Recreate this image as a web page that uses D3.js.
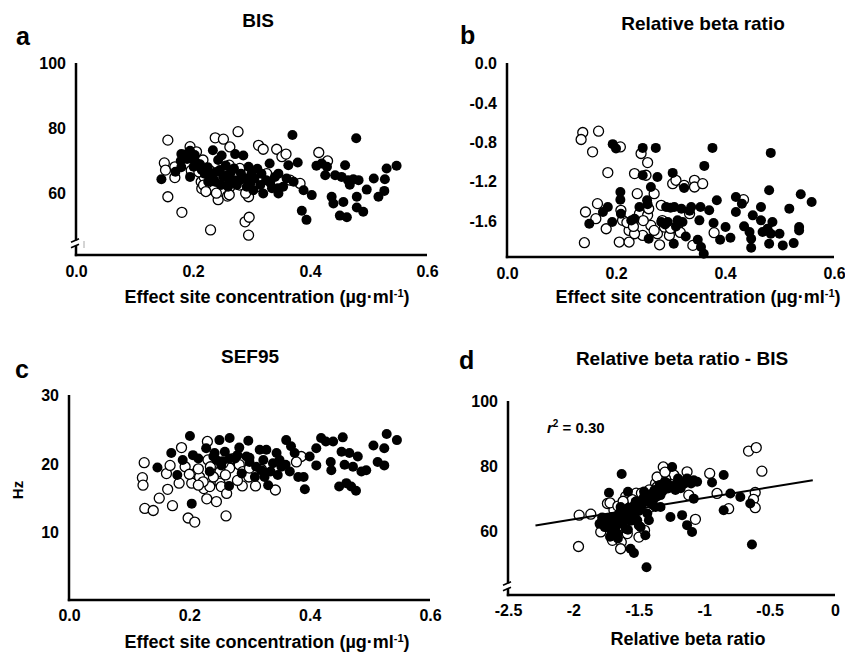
<!DOCTYPE html>
<html>
<head>
<meta charset="utf-8">
<script src="https://cdn.jsdelivr.net/npm/d3@7"></script>
<style>
  html, body { margin: 0; padding: 0; background: #fff; }
  svg { display: block; }
  text { font-family: "Liberation Sans", Arial, sans-serif; font-weight: bold; fill: #000; }
</style>
</head>
<body>
<svg id="chart" width="845" height="655"></svg>
<script>
// ---------- DATA ----------
const concTicks = [0.0, 0.2, 0.4, 0.6];
const bisTicks = [60, 80, 100];
const betaTicks = [0.0, -0.4, -0.8, -1.2, -1.6];
const sefTicks = [10, 20, 30];
const betaXTicks = [-2.5, -2, -1.5, -1, -0.5, 0];

// Panel a: BIS vs effect site concentration
const aOpen = [[0.157,76.3],[0.151,69.3],[0.153,67.1],[0.169,64.8],[0.157,58.9],[0.181,54.1],[0.195,74.3],[0.206,72.7],[0.217,70.2],[0.214,63.5],[0.215,61.4],[0.235,60.9],[0.238,77.0],[0.252,76.6],[0.243,58.0],[0.259,59.1],[0.263,74.2],[0.277,78.9],[0.230,48.7],[0.262,68.6],[0.289,51.2],[0.296,52.6],[0.295,47.1],[0.295,58.9],[0.312,74.7],[0.320,73.5],[0.343,73.5],[0.352,71.2],[0.359,72.0],[0.366,64.0],[0.383,63.0],[0.415,72.5],[0.430,69.9],[0.219,65.0],[0.229,66.9],[0.280,62.5],[0.269,65.0],[0.280,67.6],[0.326,66.0],[0.169,68.1],[0.197,67.0],[0.246,63.5],[0.263,61.9],[0.308,61.9],[0.210,66.5],[0.218,62.5],[0.222,60.5],[0.240,60.0],[0.262,59.5],[0.290,60.0]];
const aFilled = [[0.146,64.3],[0.170,66.6],[0.179,69.9],[0.186,71.9],[0.195,65.0],[0.203,71.7],[0.201,68.1],[0.215,67.1],[0.234,73.2],[0.235,66.1],[0.243,70.2],[0.246,67.1],[0.249,71.6],[0.226,63.5],[0.238,63.5],[0.258,65.5],[0.263,63.5],[0.272,72.0],[0.286,71.6],[0.280,64.0],[0.295,68.1],[0.300,66.0],[0.292,62.0],[0.303,60.9],[0.320,59.9],[0.317,66.0],[0.332,63.2],[0.331,69.1],[0.346,66.0],[0.346,59.9],[0.354,62.0],[0.363,68.6],[0.370,77.9],[0.372,63.5],[0.379,69.4],[0.386,54.6],[0.389,60.9],[0.394,51.8],[0.403,59.4],[0.411,68.4],[0.420,69.1],[0.426,65.5],[0.437,58.9],[0.443,65.5],[0.440,56.8],[0.454,65.0],[0.460,68.6],[0.457,57.3],[0.451,53.1],[0.463,52.6],[0.465,64.0],[0.468,62.6],[0.474,64.3],[0.479,76.9],[0.480,58.9],[0.483,64.0],[0.480,55.6],[0.491,54.3],[0.497,61.1],[0.509,64.5],[0.517,58.9],[0.527,60.7],[0.528,64.3],[0.531,67.6],[0.548,68.4],[0.429,68.1],[0.212,68.9],[0.270,67.6],[0.220,66.0],[0.225,68.0],[0.232,64.5],[0.240,66.5],[0.248,62.5],[0.252,65.0],[0.256,68.5],[0.260,62.0],[0.265,66.5],[0.270,64.0],[0.275,62.5],[0.282,66.0],[0.290,64.5],[0.298,63.0],[0.305,64.5],[0.310,67.5],[0.315,62.5],[0.325,64.0],[0.335,61.5],[0.340,65.0],[0.345,61.5],[0.360,64.5],[0.205,69.5],[0.190,70.5],[0.180,68.0],[0.180,72.0],[0.195,73.0],[0.200,70.5]];

// Panel b: relative beta ratio vs effect site concentration
const bOpen = [[0.139,-0.706],[0.136,-0.777],[0.168,-0.692],[0.157,-0.902],[0.185,-1.113],[0.208,-0.852],[0.144,-1.513],[0.142,-1.825],[0.166,-1.428],[0.163,-1.581],[0.182,-1.683],[0.206,-1.818],[0.209,-1.496],[0.212,-1.598],[0.224,-1.818],[0.234,-1.123],[0.239,-1.327],[0.246,-0.919],[0.258,-1.011],[0.255,-1.140],[0.243,-1.530],[0.258,-1.547],[0.264,-1.649],[0.249,-1.751],[0.280,-1.846],[0.276,-1.734],[0.283,-1.445],[0.289,-1.666],[0.298,-1.751],[0.304,-1.225],[0.310,-1.191],[0.325,-1.242],[0.335,-1.530],[0.344,-1.191],[0.344,-1.259],[0.359,-1.225],[0.341,-1.852],[0.380,-1.723],[0.434,-1.388],[0.313,-1.683],[0.270,-1.327],[0.224,-1.700],[0.234,-1.734],[0.220,-1.620],[0.232,-1.660],[0.250,-1.600],[0.270,-1.700],[0.285,-1.600],[0.300,-1.680],[0.318,-1.720],[0.260,-1.480]];
const bFilled = [[0.151,-1.632],[0.176,-1.513],[0.185,-1.462],[0.193,-1.615],[0.194,-0.824],[0.200,-0.868],[0.208,-1.310],[0.208,-1.388],[0.209,-1.530],[0.234,-1.581],[0.243,-1.462],[0.249,-1.140],[0.249,-0.862],[0.257,-1.394],[0.258,-1.435],[0.264,-1.259],[0.273,-0.862],[0.276,-1.157],[0.260,-1.785],[0.283,-1.615],[0.292,-1.462],[0.295,-1.615],[0.304,-1.116],[0.306,-1.835],[0.307,-1.462],[0.313,-1.598],[0.322,-1.615],[0.325,-1.269],[0.328,-1.761],[0.338,-1.462],[0.353,-1.598],[0.355,-1.462],[0.350,-1.795],[0.356,-1.869],[0.361,-1.937],[0.362,-1.045],[0.371,-1.496],[0.377,-0.862],[0.379,-1.625],[0.385,-1.394],[0.391,-1.795],[0.401,-1.666],[0.410,-1.774],[0.420,-1.513],[0.420,-1.361],[0.431,-1.428],[0.435,-1.659],[0.445,-1.717],[0.448,-1.785],[0.448,-1.876],[0.451,-1.547],[0.466,-1.462],[0.466,-1.598],[0.469,-1.717],[0.481,-1.293],[0.481,-1.835],[0.484,-0.913],[0.487,-1.615],[0.484,-1.734],[0.500,-1.734],[0.506,-1.852],[0.518,-1.479],[0.526,-1.829],[0.536,-1.666],[0.536,-1.700],[0.539,-1.333],[0.559,-1.411],[0.478,-1.683],[0.228,-1.600],[0.290,-1.640],[0.310,-1.660],[0.320,-1.480],[0.300,-1.470],[0.335,-1.500]];

// Panel c: SEF95 vs effect site concentration
const cOpen = [[0.125,20.1],[0.122,17.9],[0.123,16.8],[0.126,13.4],[0.140,13.1],[0.150,14.9],[0.162,18.5],[0.164,16.2],[0.168,19.7],[0.172,13.8],[0.183,17.1],[0.187,22.3],[0.193,19.5],[0.198,12.0],[0.209,11.4],[0.204,17.1],[0.209,18.5],[0.217,18.0],[0.224,16.3],[0.229,14.8],[0.230,23.2],[0.231,20.5],[0.234,16.6],[0.245,14.4],[0.251,17.1],[0.253,16.6],[0.251,18.8],[0.261,12.3],[0.262,15.6],[0.267,19.3],[0.273,20.7],[0.283,19.8],[0.289,18.8],[0.288,16.7],[0.299,18.0],[0.310,16.7],[0.320,19.1],[0.343,16.1],[0.386,21.0],[0.378,20.2],[0.223,17.3],[0.240,18.0],[0.256,20.0],[0.200,18.4],[0.215,19.2],[0.235,19.5],[0.260,18.3],[0.280,17.5],[0.300,19.3],[0.215,16.8]];
const cFilled = [[0.147,19.4],[0.170,21.5],[0.180,18.3],[0.189,20.5],[0.201,24.0],[0.204,14.1],[0.206,21.2],[0.215,20.7],[0.228,22.2],[0.234,18.8],[0.242,21.5],[0.245,20.5],[0.250,23.4],[0.253,19.7],[0.259,21.7],[0.267,23.7],[0.266,16.7],[0.276,20.7],[0.283,22.3],[0.298,23.3],[0.295,21.0],[0.300,20.2],[0.309,18.0],[0.311,19.5],[0.317,22.0],[0.323,20.5],[0.328,22.0],[0.325,18.0],[0.331,16.8],[0.339,20.0],[0.345,21.5],[0.347,18.3],[0.353,19.5],[0.361,23.4],[0.367,18.8],[0.369,22.5],[0.375,21.5],[0.381,18.0],[0.390,18.0],[0.392,16.2],[0.400,21.0],[0.411,22.2],[0.411,19.7],[0.419,23.7],[0.427,23.2],[0.435,20.2],[0.436,19.0],[0.439,23.2],[0.449,16.6],[0.455,23.8],[0.461,17.1],[0.453,21.7],[0.458,19.8],[0.466,21.5],[0.469,16.6],[0.472,19.5],[0.477,16.0],[0.480,21.0],[0.486,18.8],[0.494,19.0],[0.506,22.6],[0.513,20.2],[0.524,22.2],[0.524,19.7],[0.528,24.3],[0.545,23.4],[0.287,18.5],[0.267,20.7],[0.240,21.0],[0.255,20.3],[0.280,21.2],[0.300,20.8],[0.320,19.0],[0.335,18.8],[0.350,20.5],[0.360,19.8]];

// Panel d: BIS vs relative beta ratio
const dOpen = [[-1.956,64.7],[-1.867,65.0],[-1.961,55.0],[-1.740,68.3],[-1.791,59.5],[-1.702,56.9],[-1.634,56.4],[-1.639,54.3],[-1.588,59.0],[-1.499,57.9],[-1.456,60.0],[-1.466,71.4],[-1.372,74.5],[-1.313,79.6],[-1.263,78.1],[-1.232,77.1],[-1.131,78.1],[-1.118,70.9],[-1.067,63.4],[-0.958,77.6],[-0.902,71.4],[-0.813,66.7],[-0.661,84.5],[-0.602,85.6],[-0.559,78.3],[-0.610,71.7],[-0.623,69.6],[-0.610,67.0],[-1.296,76.0],[-1.360,73.4],[-1.690,66.2],[-1.537,66.2],[-1.410,67.2],[-1.270,73.4],[-1.600,70.5],[-1.520,71.5],[-1.420,72.5],[-1.360,76.5],[-1.300,78.0],[-1.330,73.0],[-1.550,69.5],[-1.480,71.5],[-1.720,68.5],[-1.660,67.5],[-1.620,69.0]];
const dFilled = [[-1.631,77.4],[-1.728,71.6],[-1.778,63.1],[-1.740,62.1],[-1.702,64.1],[-1.677,61.0],[-1.651,65.2],[-1.639,67.2],[-1.608,63.1],[-1.583,71.9],[-1.583,60.2],[-1.563,54.3],[-1.537,53.0],[-1.550,65.2],[-1.524,68.8],[-1.512,63.1],[-1.486,67.2],[-1.461,70.3],[-1.435,65.2],[-1.423,63.1],[-1.441,48.6],[-1.397,71.4],[-1.372,67.2],[-1.334,70.9],[-1.283,72.9],[-1.258,64.1],[-1.245,79.6],[-1.207,74.5],[-1.169,64.7],[-1.131,76.0],[-1.131,61.6],[-1.093,59.5],[-1.080,69.8],[-1.054,75.0],[-0.940,74.8],[-0.851,77.1],[-0.851,66.2],[-0.800,71.4],[-0.724,70.3],[-0.648,68.3],[-0.635,55.6],[-1.700,59.5],[-1.650,62.1],[-1.588,65.2],[-1.385,69.8],[-1.334,67.2],[-1.753,63.6],[-1.664,59.0],[-1.486,61.0],[-1.524,65.7],[-1.80,62.0],[-1.78,64.0],[-1.76,61.0],[-1.74,63.5],[-1.72,60.5],[-1.70,62.5],[-1.68,64.0],[-1.66,62.0],[-1.64,63.5],[-1.62,66.0],[-1.60,64.5],[-1.58,67.0],[-1.56,63.0],[-1.54,67.5],[-1.52,69.0],[-1.50,66.0],[-1.48,68.5],[-1.46,72.0],[-1.44,69.0],[-1.42,71.0],[-1.40,68.0],[-1.38,72.5],[-1.36,70.5],[-1.34,74.0],[-1.32,72.0],[-1.30,75.0],[-1.28,74.5],[-1.22,74.0],[-1.18,73.0],[-1.10,74.5],[-1.60,60.5],[-1.66,57.5],[-1.72,58.0],[-1.50,61.5],[-1.45,58.5],[-1.20,76.0],[-1.15,74.5],[-1.08,75.5],[-1.22,72.5]];
const dFitLine = [[-2.29, 61.5], [-0.17, 75.5]];

// ---------- DRAWING ----------
const svg = d3.select("#chart");
const R = 5;
const TICK_FONT = "16px";

function panel(cfg) {
  const g = svg.append("g");
  const x = d3.scaleLinear().domain(cfg.xDomain).range(cfg.xRange);
  const y = d3.scaleLinear().domain(cfg.yDomain).range(cfg.yRange);
  const x0 = cfg.xRange[0], y0 = cfg.yRange[0];

  const pts = g.append("g");
  pts.selectAll("circle.o").data(cfg.open).join("circle")
    .attr("class", "o").attr("cx", d => x(d[0])).attr("cy", d => y(d[1])).attr("r", R)
    .attr("fill", "#fff").attr("stroke", "#000").attr("stroke-width", 1.3);
  pts.selectAll("circle.f").data(cfg.filled).join("circle")
    .attr("class", "f").attr("cx", d => x(d[0])).attr("cy", d => y(d[1])).attr("r", R)
    .attr("fill", "#000");

  if (cfg.fit) {
    g.append("path").datum(cfg.fit)
      .attr("d", d3.line().x(d => x(d[0])).y(d => y(d[1])))
      .attr("stroke", "#000").attr("stroke-width", 2).attr("fill", "none");
  }

  g.append("line").attr("x1", x0).attr("x2", x0).attr("y1", y(cfg.yDomain[1])).attr("y2", y0 + 1.2)
    .attr("stroke", "#000").attr("stroke-width", 2.5);
  g.append("line").attr("x1", x0 - 1.2).attr("x2", cfg.xRange[1]).attr("y1", y0).attr("y2", y0)
    .attr("stroke", "#000").attr("stroke-width", 2.5);

  const xAxis = d3.axisBottom(x).tickValues(cfg.xTicks).tickFormat(cfg.xFormat).tickSize(0).tickPadding(0);
  const xa = g.append("g").attr("transform", `translate(0,${y0})`).call(xAxis);
  xa.select(".domain").remove();
  xa.selectAll("text").attr("dy", null).attr("y", cfg.xTickDy)
    .style("font-family", '"Liberation Sans", Arial, sans-serif').style("font-weight", "bold").style("font-size", TICK_FONT);

  const yAxis = d3.axisLeft(y).tickValues(cfg.yTicks).tickFormat(cfg.yFormat).tickSize(0).tickPadding(0);
  const ya = g.append("g").attr("transform", `translate(${x0},0)`).call(yAxis);
  ya.select(".domain").remove();
  ya.selectAll("text").attr("x", -10).attr("dy", "0.36em")
    .style("font-family", '"Liberation Sans", Arial, sans-serif').style("font-weight", "bold").style("font-size", TICK_FONT);

  if (cfg.breakY) {
    const by = cfg.breakY;
    g.append("rect").attr("x", x0 - 3).attr("y", by - 2.5).attr("width", 6).attr("height", 5).attr("fill", "#fff");
    [-2.8, 2.8].forEach(o => {
      g.append("line").attr("x1", x0 - 5).attr("y1", by + o + 2).attr("x2", x0 + 3).attr("y2", by + o - 1.5)
        .attr("stroke", "#000").attr("stroke-width", 1.6);
    });
  }

  g.append("text").attr("x", cfg.titleX).attr("y", cfg.titleY).attr("text-anchor", "middle")
    .style("font-size", "19px").text(cfg.title);
  g.append("text").attr("x", cfg.letterX).attr("y", cfg.letterY)
    .style("font-size", "25px").text(cfg.letter);
  const xl = g.append("text").attr("x", cfg.xLabelX).attr("y", cfg.xLabelY).attr("text-anchor", "middle")
    .style("font-size", "18px");
  if (cfg.unit) {
    xl.append("tspan").text("Effect site concentration (µg·ml");
    xl.append("tspan").attr("dy", -6).style("font-size", "11px").text("-1");
    xl.append("tspan").attr("dy", 6).text(")");
  } else {
    xl.text(cfg.xLabel);
  }
  return { g, x, y };
}

const fmt1 = d => d.toFixed(1);
const fmtInt = d => String(d);
const fmtBeta = d => String(d);

const pa = panel({
  xDomain: [0, 0.6], xRange: [76, 427], yDomain: [41, 100], yRange: [255, 63],
  xTicks: concTicks, yTicks: bisTicks, xFormat: fmt1, yFormat: fmtInt, xTickDy: 22,
  open: aOpen, filled: aFilled, breakY: 243,
  title: "BIS", titleX: 258, titleY: 27, letter: "a", letterX: 16, letterY: 45,
  unit: true, xLabelX: 267, xLabelY: 303
});
pa.g.append("line").attr("x1", 84).attr("x2", 84).attr("y1", 241).attr("y2", 248).attr("stroke", "#aaa").attr("stroke-width", 1);

panel({
  xDomain: [0, 0.6], xRange: [507, 834], yDomain: [-1.97, 0], yRange: [257, 63],
  xTicks: concTicks, yTicks: betaTicks, xFormat: fmt1, yFormat: fmt1, xTickDy: 22,
  open: bOpen, filled: bFilled,
  title: "Relative beta ratio", titleX: 703, titleY: 30, letter: "b", letterX: 460, letterY: 44,
  unit: true, xLabelX: 698, xLabelY: 303
});

const pc = panel({
  xDomain: [0, 0.6], xRange: [69, 430], yDomain: [0, 30], yRange: [600, 395],
  xTicks: concTicks, yTicks: sefTicks, xFormat: fmt1, yFormat: fmtInt, xTickDy: 21,
  open: cOpen, filled: cFilled,
  title: "SEF95", titleX: 250, titleY: 363, letter: "c", letterX: 15, letterY: 378,
  unit: true, xLabelX: 267, xLabelY: 648
});
pc.g.append("text").attr("transform", "translate(23,490) rotate(-90)").attr("text-anchor", "middle")
  .style("font-size", "15px").text("Hz");

const pd = panel({
  xDomain: [-2.5, 0], xRange: [508, 835], yDomain: [40, 100], yRange: [595, 401],
  xTicks: betaXTicks, yTicks: bisTicks, xFormat: fmtBeta, yFormat: fmtInt, xTickDy: 21,
  open: dOpen, filled: dFilled, fit: dFitLine, breakY: 586,
  title: "Relative beta ratio - BIS", titleX: 682, titleY: 365, letter: "d", letterX: 459, letterY: 369,
  unit: false, xLabel: "Relative beta ratio", xLabelX: 688, xLabelY: 645
});
const rt = pd.g.append("text").attr("x", 547).attr("y", 433).style("font-size", "15px");
rt.append("tspan").style("font-style", "italic").text("r");
rt.append("tspan").attr("dy", -6).style("font-size", "10px").text("2");
rt.append("tspan").attr("dy", 6).text(" = 0.30");
</script>
</body>
</html>
